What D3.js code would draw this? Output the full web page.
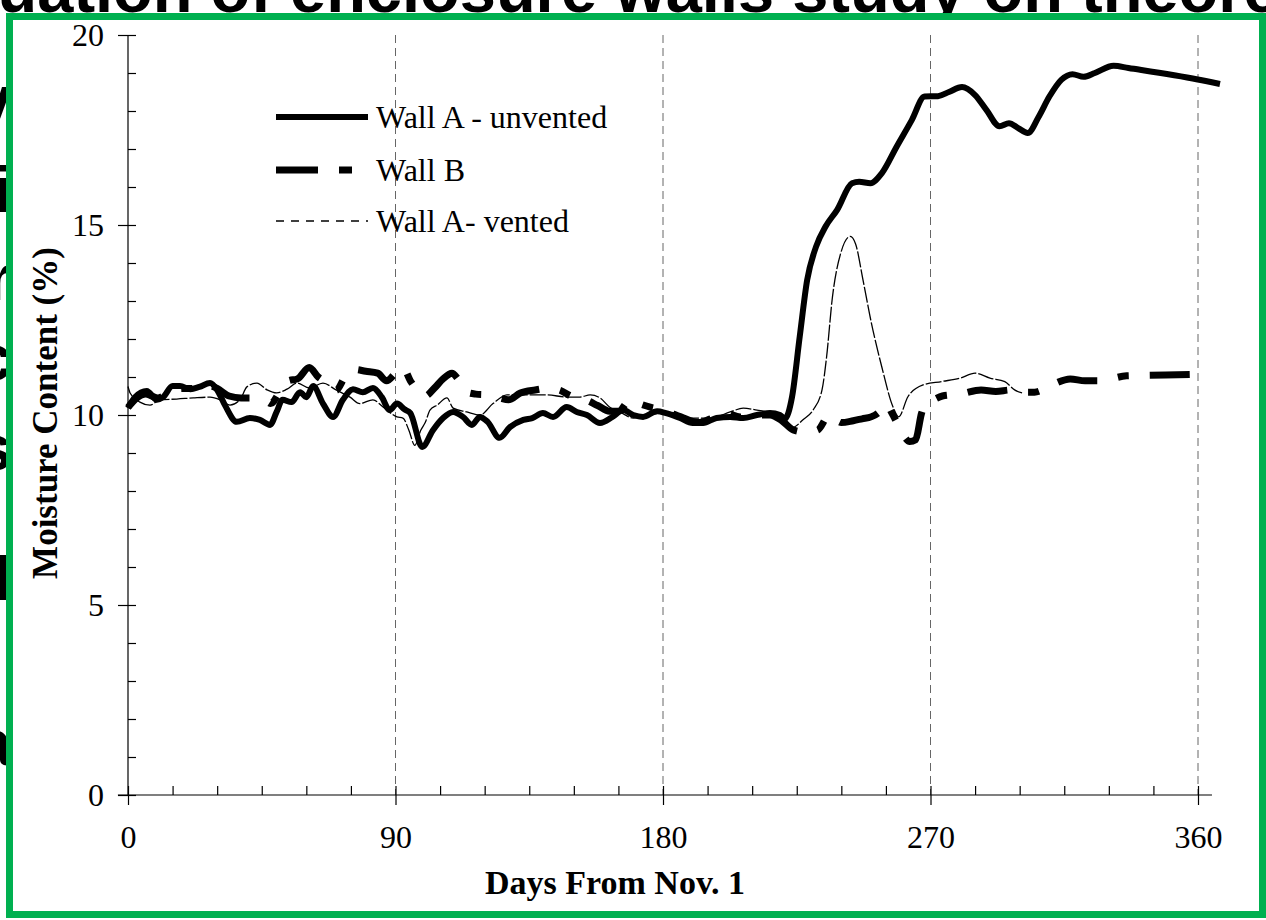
<!DOCTYPE html>
<html>
<head>
<meta charset="utf-8">
<script src="https://cdn.jsdelivr.net/npm/d3@7"></script>
<style>
  body { margin: 0; background: #fff; }
  svg { display: block; }
</style>
</head>
<body>
<svg id="chart" width="1266" height="920"></svg>
<script>
// tick labels
var xTicks = [0, 90, 180, 270, 360];
var yTicks = [0, 5, 10, 15, 20];
var seriesNames = ["Wall A - unvented", "Wall B", "Wall A- vented"];

// Wall A - unvented  [day, moisture %]
var wallA = [
  [0,10.18],[2.4,10.47],[6.3,10.63],[9.7,10.4],[11.8,10.47],[15,10.76],[17.5,10.76],[21,10.68],
  [24,10.74],[27.6,10.84],[30,10.66],[32.6,10.26],[36.6,9.82],[41,9.92],[44.4,9.87],[47.8,9.74],
  [50,10.08],[52,10.4],[55,10.34],[57.9,10.6],[60,10.47],[62.3,10.76],[65.6,10.3],[69,9.95],
  [72.3,10.4],[75.7,10.68],[79,10.6],[82.4,10.71],[85.4,10.47],[88,10.13],[90.5,10.3],[93,10.15],
  [95,10.05],[99,9.16],[102.6,9.6],[106,9.92],[109.4,10.08],[112.7,9.95],[115.7,9.74],[118.4,9.95],
  [121,9.82],[125,9.4],[128.5,9.68],[133,9.87],[136,9.92],[139.6,10.05],[143,9.95],[147.6,10.21],
  [151,10.08],[154.4,10.0],[158.8,9.79],[163,9.95],[166.6,10.13],[170,10.0],[173.3,9.95],[178,10.1],
  [181,10.05],[185.7,9.92],[190,9.79],[193.5,9.79],[198,9.92],[202.6,9.95],[207,9.92],[211.6,10.0],
  [216,10.05],[219.4,10.0],[221,9.9],[223.4,10.47],[226,12.06],[228.5,13.55],[231.5,14.43],
  [234.7,14.96],[238.6,15.4],[243.6,16.1],[246,16.14],[249.8,16.1],[253.6,16.36],[258.6,17.06],
  [263.7,17.76],[268,18.38],[272.5,18.39],[276.2,18.5],[280.6,18.63],[285,18.42],[288.8,18.03],
  [293.2,17.6],[296.4,17.68],[299.5,17.55],[302.7,17.42],[306.4,17.85],[310,18.38],[314,18.82],
  [317.8,18.97],[321.5,18.9],[325.3,19.0],[331.6,19.19],[336.6,19.13],[359.9,18.83],[367.4,18.71]
];

// Wall B
var wallB = [
  [0,10.2],[3,10.45],[6,10.55],[10,10.45],[14,10.6],[18,10.7],[22,10.7],[26,10.8],[30,10.7],
  [34,10.5],[38,10.45],[42,10.45],[46,10.4],[48,10.3],[51,10.6],[54,10.9],[57,10.95],[61,11.25],
  [64,11.0],[67,10.85],[70,10.65],[73,11.0],[76,11.2],[80,11.15],[84,11.1],[87,10.9],[90,11.1],
  [92.5,11.25],[95,10.9],[98,10.6],[100,10.5],[103,10.7],[106,10.95],[109,11.1],[111,10.95],
  [114,10.6],[117,10.55],[121,10.53],[125,10.45],[128,10.4],[132,10.58],[137,10.66],[141,10.7],
  [145,10.66],[149,10.5],[154,10.4],[158,10.25],[162,10.1],[165,10.1],[169,10.4],[172,10.3],
  [176,10.2],[180,10.13],[186,9.95],[192,9.8],[196,9.9],[201,10.05],[206,9.95],[211,10.0],
  [216,10.0],[220,9.85],[224,9.6],[228,9.55],[232,9.6],[236,10.0],[240,9.8],[244,9.85],[247,9.9],
  [250,9.95],[253,10.1],[255,10.3],[257,10.05],[259,9.75],[261,9.45],[263,9.3],[265,9.35],
  [267,10.05],[268.5,10.3],[271,10.4],[274,10.5],[280,10.55],[287,10.66],[292,10.62],[297,10.66],
  [301,10.6],[305,10.6],[311,10.8],[317,10.95],[322,10.9],[327,10.9],[336,11.03],[349,11.05],[361,11.07]
];

// Wall A- vented
var wallAVented = [
  [0,10.75],[0.7,10.58],[4,10.34],[7.4,10.26],[10.8,10.4],[16.4,10.42],[22,10.45],[27.6,10.47],
  [31,10.4],[34.3,10.26],[37.7,10.4],[40,10.74],[43.4,10.84],[46.8,10.66],[50,10.58],[53.5,10.68],
  [56.9,10.84],[61,10.71],[65.6,10.84],[70,10.66],[74.7,10.47],[78,10.3],[82.4,10.4],[85.8,10.21],
  [90.5,9.95],[92.5,9.92],[94.5,9.6],[96.5,9.2],[98.5,9.6],[100,9.8],[101.6,10.13],[104,10.26],
  [107.3,10.45],[109.4,10.18],[114,10.08],[118.4,10.0],[122.8,10.3],[127.5,10.53],[134,10.53],
  [141,10.53],[147.7,10.47],[152,10.47],[155.5,10.53],[158.8,10.45],[162,10.21],[165.5,10.08],
  [170,9.92],[175.6,10.0],[181,10.08],[186.7,10.0],[189,9.92],[196,9.92],[202.6,10.08],[207,10.18],
  [211.6,10.13],[217,10.05],[220.4,9.95],[223.8,9.68],[227,9.87],[230.5,10.13],[233.5,10.66],
  [235,11.5],[237,13.1],[239.8,14.26],[243,14.7],[244.8,14.5],[247.3,13.55],[249.9,12.5],
  [253.6,11.27],[257.4,10.21],[259.3,9.95],[262.4,10.48],[267.5,10.79],[273.7,10.88],[280,10.97],
  [285,11.1],[290,10.97],[295,10.88],[298.3,10.66],[300.8,10.58]
];

var svg = d3.select("#chart");
var serif = "'Liberation Serif', 'Times New Roman', serif";

// slide text cut off by the screenshot (behind the frame)
var title = svg.append("text")
    .attr("y", 12)
    .attr("font-family", "'Liberation Sans', Arial, sans-serif")
    .attr("font-weight", "bold")
    .attr("font-size", 65)
    .text("Evaluation of enclosure walls study on theoretical basis");
title.attr("x", 290 - title.node().getSubStringLength(0, 14));

var sideGlyphs = [["V", 132], ["i", 212], ["r", 300], ["c", 380], ["s", 470], ["I", 600], ["a", 765]];
svg.selectAll("text.side")
  .data(sideGlyphs)
  .enter().append("text")
    .attr("class", "side")
    .attr("x", 12)
    .attr("y", function(d) { return d[1]; })
    .attr("text-anchor", "end")
    .attr("font-family", "'Liberation Sans', Arial, sans-serif")
    .attr("font-weight", "bold")
    .attr("font-size", 65)
    .text(function(d) { return d[0]; });

// green frame
svg.append("rect")
    .attr("x", 9.5).attr("y", 16.5)
    .attr("width", 1253).attr("height", 898)
    .attr("fill", "#fff")
    .attr("stroke", "#00b050")
    .attr("stroke-width", 7);

var x = d3.scaleLinear().domain([0, 360]).range([128, 1198]);
var y = d3.scaleLinear().domain([0, 20]).range([795, 35]);

// vertical dashed grid
svg.append("g")
  .selectAll("line")
  .data(xTicks.slice(1))
  .enter().append("line")
    .attr("x1", function(d) { return x(d); })
    .attr("x2", function(d) { return x(d); })
    .attr("y1", y(20))
    .attr("y2", y(0))
    .attr("stroke", "#666")
    .attr("stroke-width", 1)
    .attr("stroke-dasharray", "8,5");

// x axis: major ticks crossing, minor ticks every 15 days pointing up
var xAxisG = svg.append("g").attr("transform", "translate(0," + y(0) + ")");
xAxisG.append("g")
    .call(d3.axisBottom(x).tickValues(xTicks).tickSizeInner(10).tickSizeOuter(0).tickPadding(20))
    .call(function(g) {
      g.select(".domain").remove();
      g.selectAll("text").attr("font-family", serif).attr("font-size", 32).attr("fill", "#000");
    });
xAxisG.append("g")
    .call(d3.axisBottom(x).tickValues(d3.range(0, 361, 15)).tickSizeInner(-9).tickSizeOuter(0).tickFormat(""))
    .call(function(g) { g.select(".domain").remove(); });
xAxisG.append("line")
    .attr("x1", x(-3.4)).attr("x2", x(364.7))
    .attr("stroke", "#000").attr("stroke-width", 1.2);

// y axis: major ticks crossing, minor ticks every 1 pointing right
var yAxisG = svg.append("g").attr("transform", "translate(" + x(0) + ",0)");
yAxisG.append("g")
    .call(d3.axisLeft(y).tickValues(yTicks).tickSizeInner(10).tickSizeOuter(0).tickPadding(14))
    .call(function(g) {
      g.select(".domain").remove();
      g.selectAll("text").attr("font-family", serif).attr("font-size", 32).attr("fill", "#000");
    });
yAxisG.append("g")
    .call(d3.axisLeft(y).tickValues(d3.range(0, 21, 1)).tickSizeInner(-8).tickSizeOuter(0).tickFormat(""))
    .call(function(g) { g.select(".domain").remove(); });
yAxisG.append("line")
    .attr("y1", y(0)).attr("y2", y(20))
    .attr("stroke", "#000").attr("stroke-width", 1.2);
svg.selectAll(".tick line").attr("stroke", "#000").attr("stroke-width", 1.2);

// axis titles
svg.append("text")
    .attr("x", 615).attr("y", 894)
    .attr("text-anchor", "middle")
    .attr("font-family", serif).attr("font-weight", "bold").attr("font-size", 34)
    .text("Days From Nov. 1");
svg.append("text")
    .attr("transform", "translate(57,413) rotate(-90)")
    .attr("text-anchor", "middle")
    .attr("font-family", serif).attr("font-weight", "bold").attr("font-size", 35)
    .text("Moisture Content (%)");

// lines
var line = d3.line()
    .x(function(d) { return x(d[0]); })
    .y(function(d) { return y(d[1]); })
    .curve(d3.curveMonotoneX);

var styles = [
  {data: wallAVented, width: 1.3, dash: "16,2", legendDash: "8,7"},
  {data: wallB, width: 7, dash: "40,21,11,21", legendDash: "42,21,13,40"},
  {data: wallA, width: 6, dash: null, legendDash: null}
];

svg.append("g")
  .selectAll("path")
  .data(styles)
  .enter().append("path")
    .attr("d", function(d) { return line(d.data); })
    .attr("fill", "none")
    .attr("stroke", "#000")
    .attr("stroke-width", function(d) { return d.width; })
    .attr("stroke-dasharray", function(d) { return d.dash; })
    .attr("stroke-linejoin", "round");

// legend
var legendRows = [
  {name: seriesNames[0], style: styles[2], y: 117, x2: 368},
  {name: seriesNames[1], style: styles[1], y: 170, x2: 352},
  {name: seriesNames[2], style: styles[0], y: 221, x2: 368}
];
var legend = svg.append("g")
  .selectAll("g")
  .data(legendRows)
  .enter().append("g")
    .attr("transform", function(d) { return "translate(0," + d.y + ")"; });
legend.append("line")
    .attr("x1", 276).attr("x2", function(d) { return d.x2; })
    .attr("stroke", "#000")
    .attr("stroke-width", function(d) { return d.style.width; })
    .attr("stroke-dasharray", function(d) { return d.style.legendDash; });
legend.append("text")
    .attr("x", 376).attr("y", 11)
    .attr("font-family", serif).attr("font-size", 32)
    .text(function(d) { return d.name; });
</script>
</body>
</html>
